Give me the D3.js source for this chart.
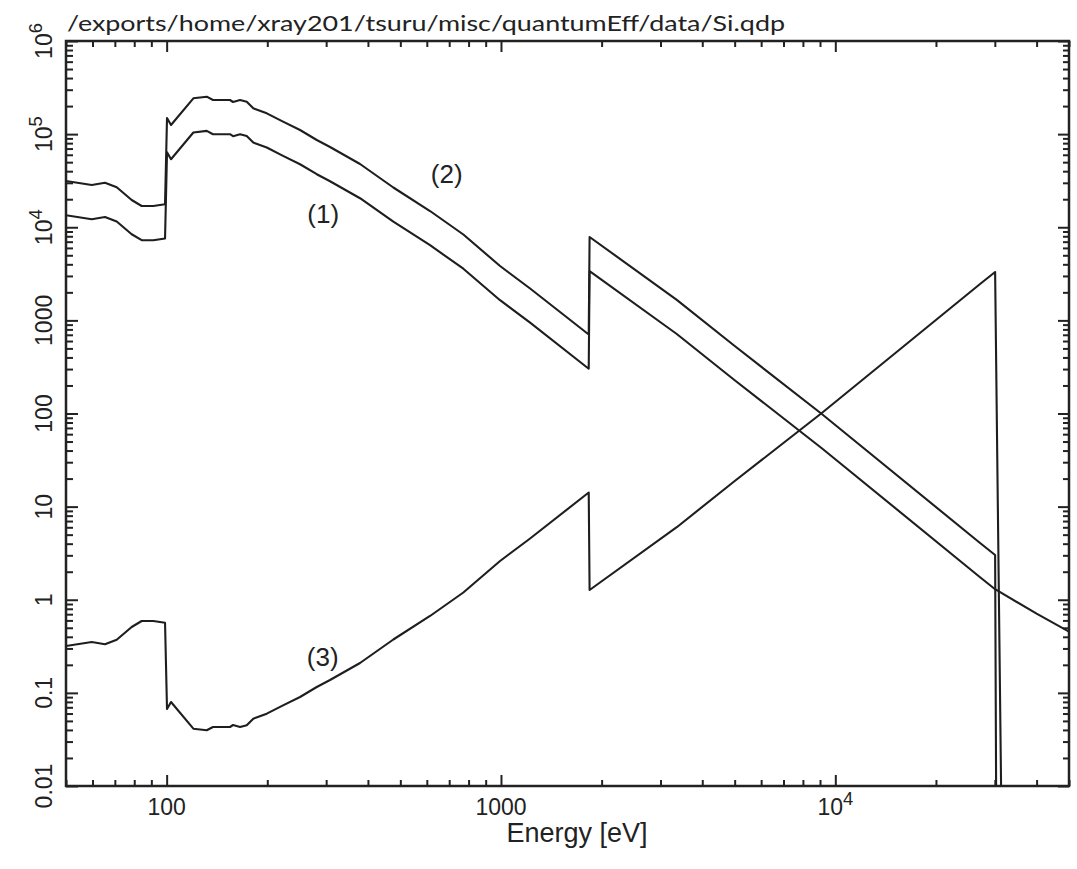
<!DOCTYPE html>
<html>
<head>
<meta charset="utf-8">
<script src="https://cdn.jsdelivr.net/npm/d3@7"></script>
<style>
body { margin: 0; background: #fff; }
svg { display: block; }
.tick line { stroke: #222; stroke-width: 2px; }
text { fill: #222; }
</style>
</head>
<body>
<svg width="1077" height="869"></svg>
<script>
"use strict";

// energies shared by the three curves [eV]
var energy = [50, 59.7, 65.4, 70.9, 78.6, 84.2, 91.2, 98.9, 100.25, 103.05,
  120.2, 131.8, 137.6, 144.4, 154.7, 158.0, 165.8, 173.6, 181.6, 199.3,
  222.9, 250.6, 281.2, 308.1, 378.8, 476.5, 613.5, 771.7, 993.6, 1222,
  1830, 1841, 3356, 4980, 9111, 27100, 30060];

// (1)
var curve1 = [13470, 12200, 12910, 11520, 8416, 7258, 7258, 7571, 63950, 53780,
  104100, 108300, 99790, 99790, 99790, 94980, 99790, 95670, 81290, 71800,
  58370, 47510, 37120, 31210, 20500, 11470, 6412, 3587, 1647, 943.8,
  302.7, 3373, 713.7, 230.6, 42.39, 1.746, 1.298];
var curve1TailEnergy = [40000, 50000];
var curve1Tail = [0.71, 0.454];

// (2)
var curve2 = [31380, 28420, 30090, 26850, 19610, 16910, 16910, 17640, 149000, 125300,
  242500, 252300, 232500, 232500, 232500, 221300, 232500, 222900, 189400, 167300,
  136000, 110700, 86480, 72730, 47770, 26720, 14940, 8358, 3837, 2199,
  705.3, 7860, 1663, 537.4, 98.77, 4.068, 3.024];

// (3)
var curve3 = [0.3187, 0.3519, 0.3323, 0.3724, 0.5099, 0.5914, 0.5914, 0.5669, 0.06711, 0.07981,
  0.04124, 0.03964, 0.04301, 0.04301, 0.04301, 0.04519, 0.04301, 0.04486, 0.0528, 0.05977,
  0.07353, 0.09033, 0.1156, 0.1375, 0.2093, 0.3743, 0.6693, 1.196, 2.606, 4.548,
  14.18, 1.272, 6.013, 18.61, 101.2, 2458, 3307];

// where (2) and (3) fall off the bottom of the plot
var curve2DropEnergy = 30430;
var curve3DropEnergy = 31790;
var offScale = 1e-4;

var xMajor = [100, 1000, 10000];
var xMajorLabels = ["100", "1000", "10^4"];
var yMajor = [1e6, 1e5, 1e4, 1000, 100, 10, 1, 0.1, 0.01];
var yMajorLabels = ["10^6", "10^5", "10^4", "1000", "100", "10", "1", "0.1", "0.01"];

var curveLabels = ["(1)", "(2)", "(3)"];
var curveLabelAt = [[294, 11160], [688, 30010], [293, 0.194]];

var titleText = "/exports/home/xray201/tsuru/misc/quantumEff/data/Si.qdp";
var xTitle = "Energy [eV]";

window.onload = function() {

  var svg = d3.select("svg"),
    left = 66, right = 1069, top = 41, bottom = 786;

  var x = d3.scaleLog().domain([50, 50000]).range([left, right]),
    y = d3.scaleLog().domain([0.01, 1e6]).range([bottom, top]);

  var isMajor = function(v) {
    var l = Math.log10(v);
    return Math.abs(l - Math.round(l)) < 1e-6;
  };
  var xMinor = x.ticks().filter(function(v) { return !isMajor(v); }),
    yMinor = y.ticks().filter(function(v) { return !isMajor(v); });

  svg.append("defs").append("clipPath").attr("id", "plotclip")
    .append("rect")
      .attr("x", left).attr("y", top)
      .attr("width", right - left).attr("height", bottom - top);

  // ticks on all four sides, pointing inward
  function tickSide(axis, tr, vals, size) {
    var g = svg.append("g")
      .attr("transform", tr)
      .call(axis.tickValues(vals).tickSize(-size).tickFormat(""));
    g.select(".domain").remove();
  }
  tickSide(d3.axisBottom(x), "translate(0," + bottom + ")", xMinor, 6);
  tickSide(d3.axisBottom(x), "translate(0," + bottom + ")", xMajor, 11);
  tickSide(d3.axisTop(x), "translate(0," + top + ")", xMinor, 6);
  tickSide(d3.axisTop(x), "translate(0," + top + ")", xMajor, 11);
  tickSide(d3.axisLeft(y), "translate(" + left + ",0)", yMinor, 7);
  tickSide(d3.axisLeft(y), "translate(" + left + ",0)", yMajor, 12);
  tickSide(d3.axisRight(y), "translate(" + right + ",0)", yMinor, 6);
  tickSide(d3.axisRight(y), "translate(" + right + ",0)", yMajor, 11);

  svg.append("rect")
    .attr("x", left).attr("y", top)
    .attr("width", right - left).attr("height", bottom - top)
    .style("fill", "none").style("stroke", "#222").style("stroke-width", 2.5);

  // labels like 10^4 get a raised exponent
  function writeLabel(sel, s, size) {
    var parts = s.split("^");
    sel.append("tspan").text(parts[0]);
    if (parts.length > 1) {
      sel.append("tspan")
        .attr("dy", -size * 0.42)
        .style("font-size", (size * 0.8) + "px")
        .text(parts[1]);
    }
  }

  xMajor.forEach(function(v, i) {
    var t = svg.append("text")
      .attr("x", x(v)).attr("y", 815)
      .attr("text-anchor", "middle")
      .style("font-family", "Liberation Sans, Arial, sans-serif")
      .style("font-size", "23px");
    writeLabel(t, xMajorLabels[i], 23);
  });

  yMajor.forEach(function(v, i) {
    var t = svg.append("text")
      .attr("transform", "translate(52," + y(v) + ") rotate(-90)")
      .attr("text-anchor", "middle")
      .style("font-family", "Liberation Sans, Arial, sans-serif")
      .style("font-size", "23px");
    writeLabel(t, yMajorLabels[i], 23);
  });

  svg.append("text")
    .attr("x", 577).attr("y", 842)
    .attr("text-anchor", "middle")
    .style("font-family", "Liberation Sans, Arial, sans-serif")
    .style("font-size", "27px")
    .text(xTitle);

  svg.append("text")
    .attr("x", 67).attr("y", 31)
    .attr("textLength", 718)
    .attr("lengthAdjust", "spacingAndGlyphs")
    .style("font-family", "Lato, DejaVu Sans, sans-serif")
    .style("font-size", "21px")
    .text(titleText);

  // curves
  var line = d3.line()
    .x(function(d) { return x(d[0]); })
    .y(function(d) { return y(d[1]); });

  var pts1 = energy.map(function(e, i) { return [e, curve1[i]]; })
    .concat(curve1TailEnergy.map(function(e, i) { return [e, curve1Tail[i]]; }));
  var pts2 = energy.map(function(e, i) { return [e, curve2[i]]; })
    .concat([[curve2DropEnergy, offScale]]);
  var pts3 = energy.map(function(e, i) { return [e, curve3[i]]; })
    .concat([[curve3DropEnergy, offScale]]);

  var plot = svg.append("g").attr("clip-path", "url(#plotclip)");
  plot.selectAll(".curve")
    .data([pts1, pts2, pts3])
    .enter().append("path")
      .attr("class", "curve")
      .attr("d", line)
      .style("fill", "none")
      .style("stroke", "#1e1e1e")
      .style("stroke-width", 2.1)
      .style("stroke-linejoin", "round");

  svg.selectAll(".clabel")
    .data(curveLabels)
    .enter().append("text")
      .attr("class", "clabel")
      .attr("x", function(d, i) { return x(curveLabelAt[i][0]); })
      .attr("y", function(d, i) { return y(curveLabelAt[i][1]); })
      .attr("text-anchor", "middle")
      .style("font-family", "Liberation Sans, Arial, sans-serif")
      .style("font-size", "26px")
      .text(function(d) { return d; });
};
</script>
</body>
</html>
